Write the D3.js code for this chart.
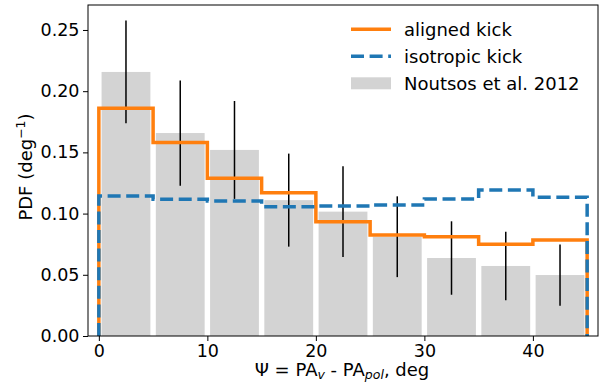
<!DOCTYPE html>
<html>
<head>
<meta charset="utf-8">
<script src="https://cdn.jsdelivr.net/npm/d3@7"></script>
<style>
  body { margin: 0; background: #fff; }
  svg { font-family: "DejaVu Sans", sans-serif; }
</style>
</head>
<body>
<div id="chart"></div>
<script>
/* DATA */
const binEdges = [0, 5, 10, 15, 20, 25, 30, 35, 40, 45];
const observed = [0.2157, 0.1658, 0.152, 0.111, 0.1016, 0.0811, 0.0637, 0.0572, 0.0498];
const observedErr = [0.042, 0.043, 0.040, 0.038, 0.037, 0.033, 0.030, 0.028, 0.025];
const aligned = [0.186, 0.158, 0.1288, 0.1171, 0.0934, 0.0825, 0.0811, 0.0749, 0.0784];
const isotropic = [0.1144, 0.1117, 0.1103, 0.1056, 0.1062, 0.107, 0.1119, 0.1193, 0.1133];
const xTicks = [0, 10, 20, 30, 40];
const yTicks = [0, 0.05, 0.10, 0.15, 0.20, 0.25];
const legendLabels = ["aligned kick", "isotropic kick", "Noutsos et al. 2012"];

/* LAYOUT */
const width = 605, height = 388,
  margin = { top: 5, right: 7, bottom: 52, left: 88 },
  fontSize = 18,
  tickFont = 17.5;

const svg = d3.select("#chart").append("svg")
  .attr("width", width)
  .attr("height", height);

const x = d3.scaleLinear()
  .domain([-1, 46])
  .range([margin.left, width - margin.right]);

const y = d3.scaleLinear()
  .domain([0, 0.2704])
  .range([height - margin.bottom, margin.top]);

const bins = observed.map((v, i) => ({ x0: binEdges[i], x1: binEdges[i + 1], v, err: observedErr[i] }));

// bars (rwidth 0.9)
svg.selectAll("rect.bar")
  .data(bins)
  .join("rect")
  .attr("class", "bar")
  .attr("x", d => x(d.x0 + 0.25))
  .attr("width", d => x(d.x1 - 0.25) - x(d.x0 + 0.25))
  .attr("y", d => y(d.v))
  .attr("height", d => y(0) - y(d.v))
  .attr("fill", "#d3d3d3");

// error bars
svg.selectAll("line.err")
  .data(bins)
  .join("line")
  .attr("class", "err")
  .attr("x1", d => x((d.x0 + d.x1) / 2))
  .attr("x2", d => x((d.x0 + d.x1) / 2))
  .attr("y1", d => y(d.v - d.err))
  .attr("y2", d => y(d.v + d.err))
  .attr("stroke", "black")
  .attr("stroke-width", 1.5);

// step outlines like histtype='step'
function stepPoints(vals) {
  const pts = [[binEdges[0], 0]];
  vals.forEach((v, i) => {
    pts.push([binEdges[i], v]);
    pts.push([binEdges[i + 1], v]);
  });
  pts.push([binEdges[binEdges.length - 1], 0]);
  return pts;
}
const line = d3.line().x(d => x(d[0])).y(d => y(d[1]));

svg.append("path")
  .datum(stepPoints(aligned))
  .attr("fill", "none")
  .attr("stroke", "#ff7f0e")
  .attr("stroke-width", 3.5)
  .attr("d", line);

svg.append("path")
  .datum(stepPoints(isotropic))
  .attr("fill", "none")
  .attr("stroke", "#1f77b4")
  .attr("stroke-width", 3.5)
  .attr("stroke-dasharray", "13,5.6")
  .attr("d", line);

// axes
const xAxis = d3.axisBottom(x).tickValues(xTicks).tickFormat(d3.format("d")).tickSizeOuter(0).tickSize(5).tickPadding(3.5);
const yAxis = d3.axisLeft(y).tickValues(yTicks).tickFormat(d3.format(".2f")).tickSizeOuter(0).tickSize(5).tickPadding(3.5);

const gx = svg.append("g")
  .attr("transform", `translate(0,${height - margin.bottom})`)
  .call(xAxis);
const gy = svg.append("g")
  .attr("transform", `translate(${margin.left},0)`)
  .call(yAxis);

[gx, gy].forEach(g => {
  g.select(".domain").remove();
  g.selectAll("text").attr("font-size", tickFont).attr("fill", "black")
    .style("font-family", "DejaVu Sans");
  g.selectAll("line").attr("stroke", "black").attr("stroke-width", 1);
});

// frame
svg.append("rect")
  .attr("x", margin.left)
  .attr("y", margin.top)
  .attr("width", width - margin.right - margin.left)
  .attr("height", height - margin.bottom - margin.top)
  .attr("fill", "none")
  .attr("stroke", "black")
  .attr("stroke-width", 1);

// axis labels
const xl = svg.append("text")
  .attr("x", 342)
  .attr("y", 376)
  .attr("text-anchor", "middle")
  .attr("font-size", fontSize);
xl.append("tspan").text("Ψ = PA");
xl.append("tspan").attr("font-size", 12.5).attr("font-style", "italic").attr("dy", 3).text("v");
xl.append("tspan").attr("dy", -3).text(" - PA");
xl.append("tspan").attr("font-size", 12.5).attr("font-style", "italic").attr("dy", 3).text("pol");
xl.append("tspan").attr("dy", -3).text(", deg");

const yl = svg.append("text")
  .attr("transform", `translate(32,167) rotate(-90)`)
  .attr("text-anchor", "middle")
  .attr("font-size", fontSize);
yl.append("tspan").text("PDF (deg");
yl.append("tspan").attr("font-size", 12.5).attr("dy", -7).text("−1");
yl.append("tspan").attr("dy", 7).text(")");

// legend
const legend = svg.append("g");
const ly = [29.3, 56.3, 83.3];
legend.append("line")
  .attr("x1", 351).attr("x2", 391).attr("y1", ly[0]).attr("y2", ly[0])
  .attr("stroke", "#ff7f0e").attr("stroke-width", 3.5);
legend.append("line")
  .attr("x1", 351).attr("x2", 391).attr("y1", ly[1]).attr("y2", ly[1])
  .attr("stroke", "#1f77b4").attr("stroke-width", 3.5).attr("stroke-dasharray", "13,5.6");
legend.append("rect")
  .attr("x", 351).attr("width", 40).attr("y", ly[2] - 6).attr("height", 12)
  .attr("fill", "#d3d3d3");
legend.selectAll("text")
  .data(legendLabels)
  .join("text")
  .attr("x", 404)
  .attr("y", (d, i) => ly[i] + 6.7)
  .attr("font-size", fontSize)
  .text(d => d);
</script>
</body>
</html>
